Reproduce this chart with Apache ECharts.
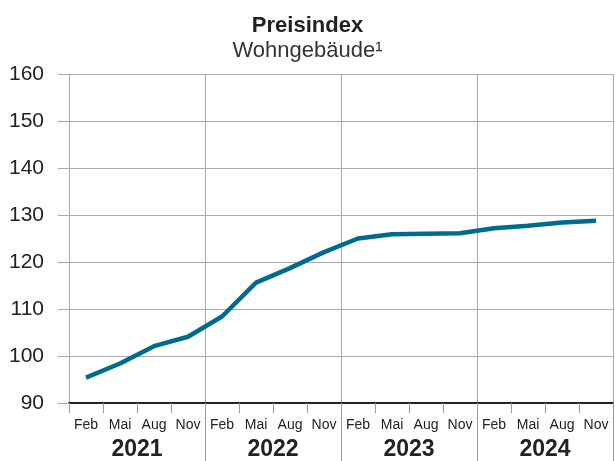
<!DOCTYPE html>
<html>
<head>
<meta charset="utf-8">
<script src="https://cdn.jsdelivr.net/npm/echarts@6/dist/echarts.min.js"></script>
<style>
html,body{margin:0;padding:0;background:#fff;}
#c{width:615px;height:461px;}
</style>
</head>
<body>
<div id="c"></div>
<script>
const months = ['Feb','Mai','Aug','Nov','Feb','Mai','Aug','Nov','Feb','Mai','Aug','Nov','Feb','Mai','Aug','Nov'];
const years = ['2021','2022','2023','2024'];
const values = [95.4, 98.4, 102.1, 104.1, 108.4, 115.6, 118.7, 122.1, 125.0, 125.9, 126.0, 126.1, 127.2, 127.7, 128.4, 128.8];
const yTicks = [90, 100, 110, 120, 130, 140, 150, 160];
const titleText = 'Preisindex';
const subtitleText = 'Wohngebäude¹';

const FONT = '"Liberation Sans", Arial, sans-serif';
const chart = echarts.init(document.getElementById('c'), null, {renderer: 'canvas'});
chart.setOption({
  animation: false,
  backgroundColor: '#fff',
  title: [
    {text: titleText, left: 'center', top: 10,
     textStyle: {fontFamily: FONT, fontSize: 22, fontWeight: 'bold', color: '#222'}},
    {text: subtitleText, left: 'center', top: 35,
     textStyle: {fontFamily: FONT, fontSize: 22, fontWeight: 'normal', color: '#333'}}
  ],
  grid: {left: 69, right: 2, top: 74, bottom: 58, containLabel: false},
  xAxis: [
    {
      type: 'category', data: months, boundaryGap: true, position: 'bottom',
      axisLine: {show: true, lineStyle: {color: '#222', width: 2}},
      axisTick: {show: true, length: 10, lineStyle: {color: '#999', width: 1}},
      axisLabel: {fontFamily: FONT, fontSize: 14, color: '#222', margin: 15, interval: 0},
      splitLine: {show: false}
    },
    {
      type: 'category', data: years, boundaryGap: true, position: 'bottom',
      axisLine: {show: false},
      axisTick: {show: true, length: 58, interval: function (i) { return i > 0; }, lineStyle: {color: '#999', width: 1}},
      axisLabel: {fontFamily: FONT, fontSize: 23, fontWeight: 'bold', color: '#222', margin: 35, interval: 0},
      splitLine: {show: true, interval: function (i) { return i > 0; }, lineStyle: {color: '#aaa', width: 1}}
    }
  ],
  yAxis: {
    type: 'value', min: 90, max: 160, interval: 10,
    axisLine: {show: true, lineStyle: {color: '#aaa', width: 1}},
    axisTick: {show: true, length: 11, lineStyle: {color: '#aaa', width: 1}},
    axisLabel: {fontFamily: FONT, fontSize: 21, color: '#222', margin: 25,
      formatter: function (v) { return yTicks.indexOf(v) >= 0 ? String(v) : ''; }},
    splitLine: {show: true, lineStyle: {color: '#aaa', width: 1}}
  },
  series: [{
    type: 'line', data: values, xAxisIndex: 0, showSymbol: false, symbol: 'none',
    lineStyle: {color: '#006a8f', width: 4.5, join: 'round', cap: 'butt'},
    z: 5
  }]
});
</script>
</body>
</html>
